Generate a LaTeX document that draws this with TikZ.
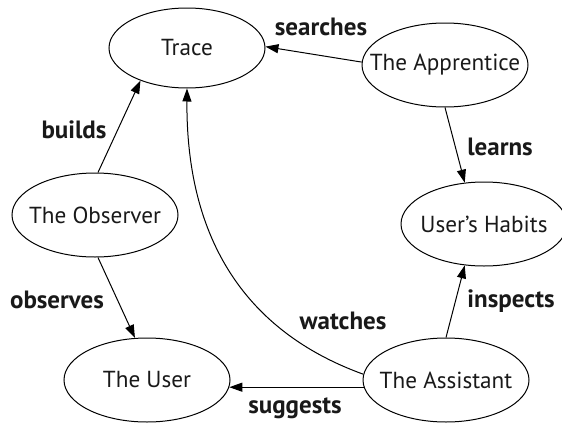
\documentclass[tikz,border=0pt]{standalone}
\usepackage{fontspec}
\setmainfont{PT Sans}
\usetikzlibrary{shapes.geometric,arrows.meta}
\begin{document}
\begin{tikzpicture}[x=0.5pt,y=-0.5pt,
  concept/.style={ellipse,draw,line width=0.5pt,inner xsep=-20pt,inner ysep=-6pt,
    minimum width=83pt,minimum height=42pt,
    font=\fontsize{11.6}{14}\selectfont,text=black!90},
  lbl/.style={font=\bfseries\fontsize{12.5}{14}\selectfont,text=black!90},
  link/.style={-{Triangle[length=6.5pt,width=4.5pt]},line width=0.5pt}
]
\useasboundingbox (0,0) rectangle (562,423);
\node[concept,minimum width=78pt,minimum height=40pt] (trace) at (187,48) {Trace};
\node[concept] (app) at (445,65) {The Apprentice};
\node[concept] (obs) at (95,215) {The Observer};
\node[concept] (hab) at (484,224) {User’s Habits};
\node[concept] (user) at (147,380) {The User};
\node[concept] (asst) at (446,380) {The Assistant};

\draw[link] (app.178) -- (trace.1);
\draw[link] (obs.86) -- (trace.215);
\draw[link] (app.270) -- (hab.115);
\draw[link] (obs.274) -- (user.106);
\draw[link] (asst.90) -- (hab.245);
\draw[link] (asst.185) -- (user.355);
\draw[link] (asst.176) .. controls (255,335) and (186,250) .. (trace.270);

\node[lbl] (lsearch) at (321,27) {searches};
\node[lbl] (lbuild) at (74,130) {builds};
\node[lbl] (llearn) at (500,147) {learns};
\node[lbl] (lobs) at (57,300) {observes};
\node[lbl] (lwatch) at (343,321) {watches};
\node[lbl] (linsp) at (511,301) {inspects};
\node[lbl] (lsugg) at (295,408) {suggests};
\end{tikzpicture}
\end{document}
